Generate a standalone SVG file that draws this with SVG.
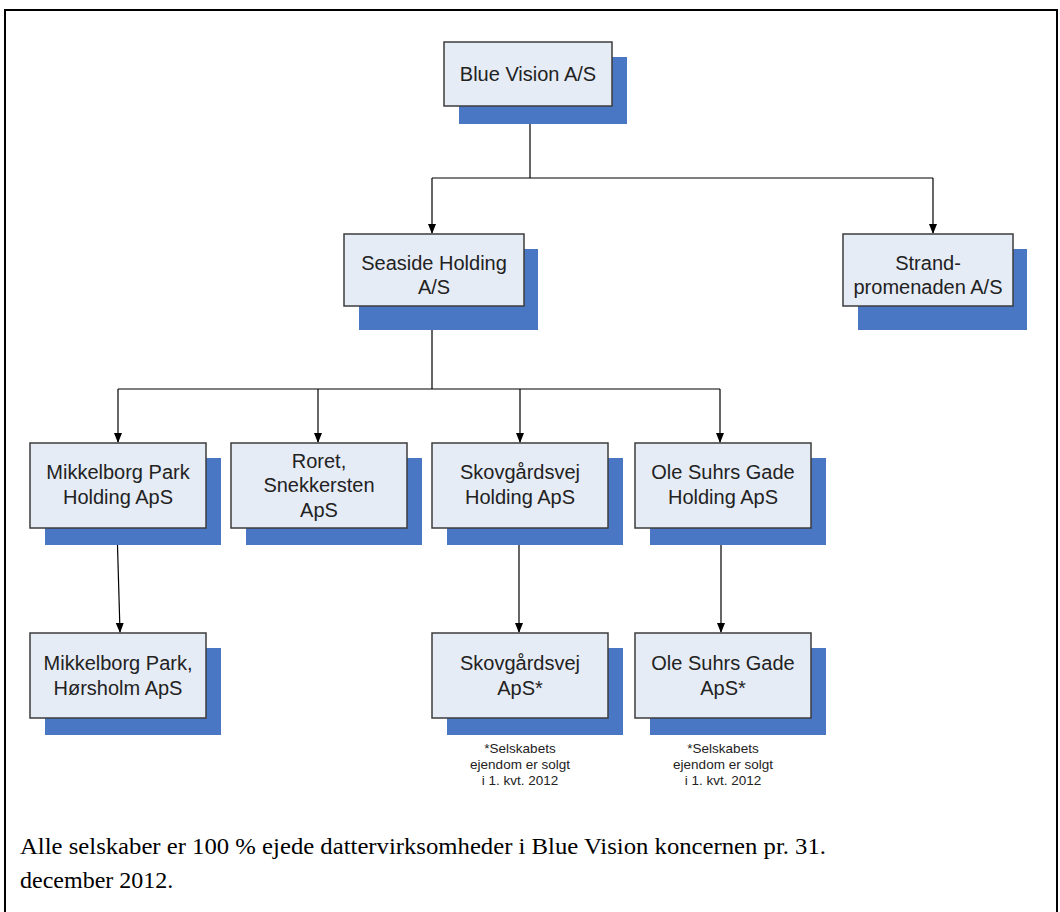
<svg xmlns="http://www.w3.org/2000/svg" width="1060" height="912" viewBox="0 0 1060 912">
<defs>
<style>
.sh{fill:#4a77c4}
.bx{fill:#e6ecf6;stroke:#3c3c3c;stroke-width:1.5}
.t{font-family:"Liberation Sans",Arial,sans-serif;font-size:20px;fill:#222;text-anchor:middle}
.n{font-family:"Liberation Sans",Arial,sans-serif;font-size:13.5px;fill:#222;text-anchor:middle}
.c{stroke:#000;stroke-width:1.2;fill:none}
.f{font-family:"Liberation Serif","Times New Roman",serif;font-size:24px;fill:#000}
</style>
<marker id="ah" markerWidth="10" markerHeight="10" refX="9" refY="5" orient="auto" markerUnits="userSpaceOnUse">
<path d="M0,1 L10,5 L0,9 Z" fill="#000"/>
</marker>
</defs>
<rect x="0" y="0" width="1060" height="912" fill="#fff"/>
<rect x="5" y="10" width="1052" height="910" fill="none" stroke="#000" stroke-width="2"/>

<g id="connectors">
<path class="c" d="M530,106 V178 M432,178 H933"/>
<path class="c" d="M432,178 V233" marker-end="url(#ah)"/>
<path class="c" d="M933,178 V233" marker-end="url(#ah)"/>
<path class="c" d="M432,306 V389 M118,389 H720"/>
<path class="c" d="M118,389 V442" marker-end="url(#ah)"/>
<path class="c" d="M318,389 V442" marker-end="url(#ah)"/>
<path class="c" d="M520,389 V442" marker-end="url(#ah)"/>
<path class="c" d="M720,389 V442" marker-end="url(#ah)"/>
<path class="c" d="M117,528 L120,632" marker-end="url(#ah)"/>
<path class="c" d="M519,528 V632" marker-end="url(#ah)"/>
<path class="c" d="M721,528 V632" marker-end="url(#ah)"/>
</g>

<g id="blue-vision">
<rect class="sh" x="459" y="57" width="168" height="67"/>
<rect class="bx" x="444" y="42" width="168" height="64"/>
<text class="t" x="528" y="81">Blue Vision A/S</text>
</g>

<g id="seaside">
<rect class="sh" x="359" y="249" width="179" height="81"/>
<rect class="bx" x="344" y="234" width="180" height="72"/>
<text class="t" x="434" y="270">Seaside Holding</text>
<text class="t" x="434" y="294">A/S</text>
</g>

<g id="strand">
<rect class="sh" x="858" y="249" width="169" height="81"/>
<rect class="bx" x="843" y="234" width="170" height="72"/>
<text class="t" x="928" y="270">Strand-</text>
<text class="t" x="928" y="294">promenaden A/S</text>
</g>

<g id="mikkelborg-holding">
<rect class="sh" x="45" y="458" width="176" height="87"/>
<rect class="bx" x="30" y="443" width="176" height="85"/>
<text class="t" x="118" y="479">Mikkelborg Park</text>
<text class="t" x="118" y="504">Holding ApS</text>
</g>

<g id="roret">
<rect class="sh" x="246" y="458" width="176" height="87"/>
<rect class="bx" x="231" y="443" width="176" height="85"/>
<text class="t" x="319" y="468">Roret,</text>
<text class="t" x="319" y="492">Snekkersten</text>
<text class="t" x="319" y="517">ApS</text>
</g>

<g id="skov-holding">
<rect class="sh" x="447" y="458" width="176" height="87"/>
<rect class="bx" x="432" y="443" width="176" height="85"/>
<text class="t" x="520" y="479">Skovgårdsvej</text>
<text class="t" x="520" y="504">Holding ApS</text>
</g>

<g id="ole-holding">
<rect class="sh" x="650" y="458" width="176" height="87"/>
<rect class="bx" x="635" y="443" width="176" height="85"/>
<text class="t" x="723" y="479">Ole Suhrs Gade</text>
<text class="t" x="723" y="504">Holding ApS</text>
</g>

<g id="mikkelborg-horsholm">
<rect class="sh" x="45" y="648" width="176" height="87"/>
<rect class="bx" x="30" y="633" width="176" height="85"/>
<text class="t" x="118" y="670">Mikkelborg Park,</text>
<text class="t" x="118" y="695">Hørsholm ApS</text>
</g>

<g id="skov-aps">
<rect class="sh" x="447" y="648" width="176" height="87"/>
<rect class="bx" x="432" y="633" width="176" height="85"/>
<text class="t" x="520" y="670">Skovgårdsvej</text>
<text class="t" x="520" y="695">ApS*</text>
</g>

<g id="ole-aps">
<rect class="sh" x="650" y="648" width="176" height="87"/>
<rect class="bx" x="635" y="633" width="176" height="85"/>
<text class="t" x="723" y="670">Ole Suhrs Gade</text>
<text class="t" x="723" y="695">ApS*</text>
</g>

<g id="notes">
<text class="n" x="520" y="753">*Selskabets</text>
<text class="n" x="520" y="769">ejendom er solgt</text>
<text class="n" x="520" y="785">i 1. kvt. 2012</text>
<text class="n" x="723" y="753">*Selskabets</text>
<text class="n" x="723" y="769">ejendom er solgt</text>
<text class="n" x="723" y="785">i 1. kvt. 2012</text>
</g>

<g id="footer">
<text class="f" x="20" y="854" textLength="806" lengthAdjust="spacingAndGlyphs">Alle selskaber er 100 % ejede dattervirksomheder i Blue Vision koncernen pr. 31.</text>
<text class="f" x="20" y="888">december 2012.</text>
</g>
</svg>
